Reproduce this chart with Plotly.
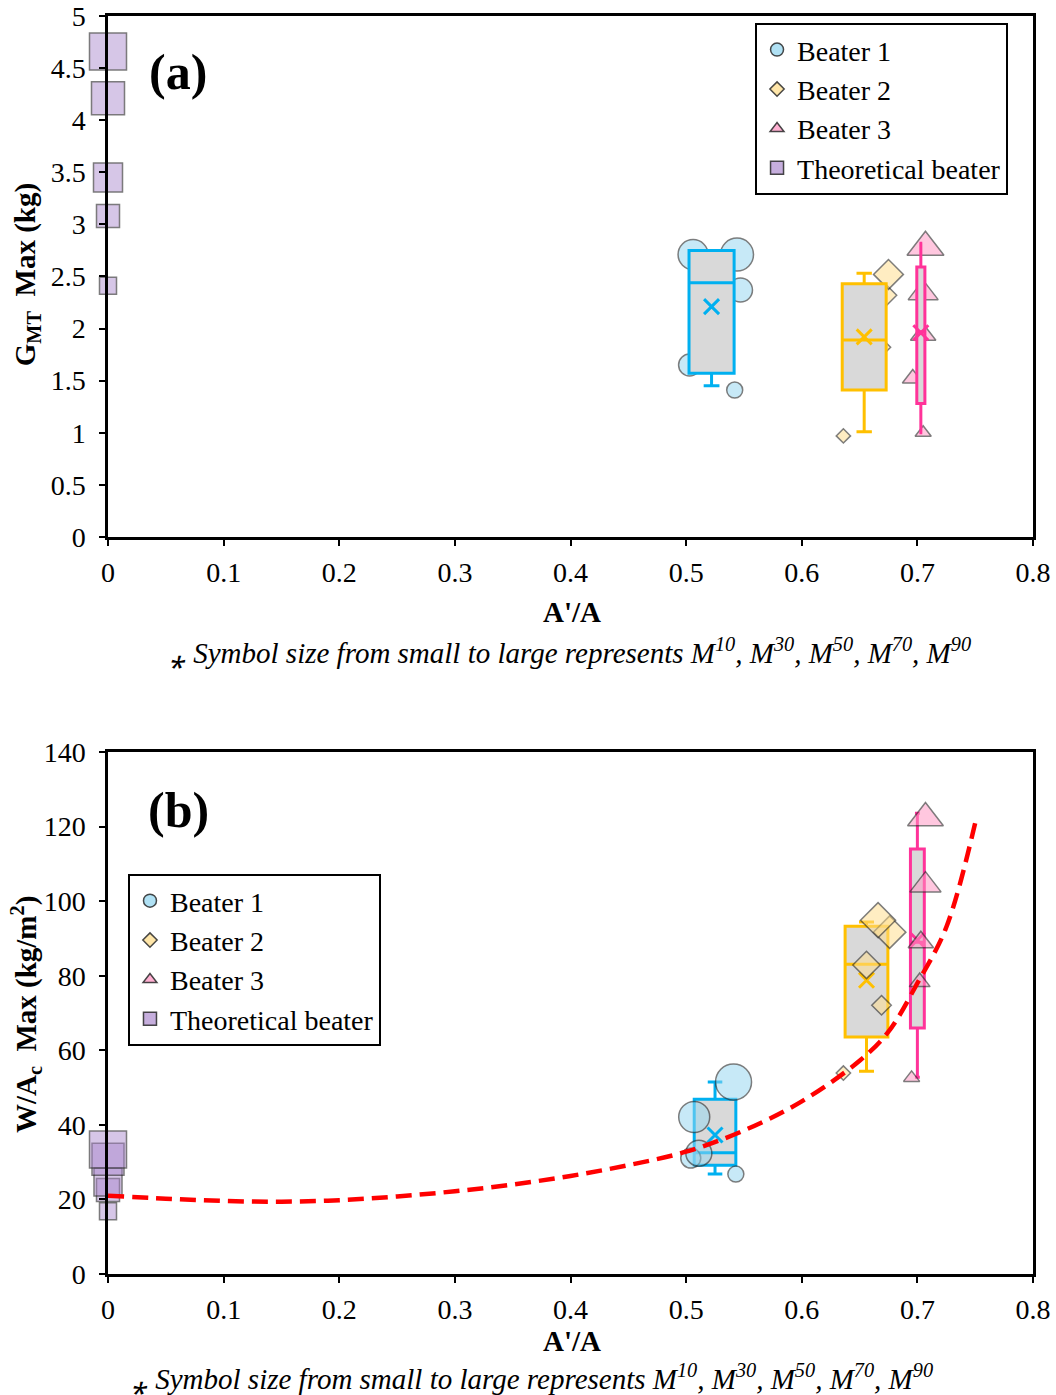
import plotly.graph_objects as go

# ---------------- Panel (a): G_MT Max (kg) ----------------
b1_a_x = [0.542, 0.503, 0.547, 0.506, 0.544]
b1_a_y = [1.41, 1.65, 2.37, 2.71, 2.71]
b1_a_s = [16, 22, 24, 30, 33]

b2_a_x = [0.636, 0.669, 0.655, 0.672, 0.675]
b2_a_y = [0.97, 1.82, 1.89, 2.32, 2.52]
b2_a_s = [11, 14, 16, 18, 23]

b3_a_x = [0.705, 0.696, 0.705, 0.705, 0.707]
b3_a_y = [1.00, 1.52, 1.94, 2.34, 2.78]
b3_a_s = [14, 18, 22, 26, 32]

theo_a_x = [0, 0, 0, 0, 0]
theo_a_y = [2.41, 3.08, 3.45, 4.21, 4.66]
theo_a_s = [17, 23, 29, 33, 37]

# box statistics (a)
box_a_x = [0.522, 0.654, 0.703]
box_a_w = [0.039, 0.038, 0.007]
box_a_q1 = [1.57, 1.41, 1.28]
box_a_med = [2.44, 1.89, 1.97]
box_a_q3 = [2.75, 2.43, 2.59]
box_a_lo = [1.45, 1.01, 1.00]
box_a_hi = [2.75, 2.53, 2.82]
box_a_mean = [2.21, 1.92, 1.96]

# ---------------- Panel (b): W/Ac Max (kg/m2) ----------------
b1_b_x = [0.543, 0.504, 0.511, 0.507, 0.541]
b1_b_y = [26.8, 31.1, 32.4, 42.1, 51.5]
b1_b_s = [16, 20, 26, 31, 36]

b2_b_x = [0.636, 0.669, 0.656, 0.676, 0.666]
b2_b_y = [53.9, 72.1, 82.9, 91.7, 94.9]
b2_b_s = [11, 15, 21, 25, 27]

b3_b_x = [0.695, 0.702, 0.703, 0.707, 0.707]
b3_b_y = [52.6, 78.3, 89.0, 104.3, 122.3]
b3_b_s = [14, 18, 22, 27, 31]

theo_b_x = [0, 0, 0, 0, 0]
theo_b_y = [16.8, 22.5, 24.7, 30.8, 33.4]
theo_b_s = [17, 23, 28, 32, 37]

box_b_x = [0.525, 0.656, 0.700]
box_b_w = [0.036, 0.037, 0.012]
box_b_q1 = [29.2, 63.6, 66.0]
box_b_med = [32.5, 83.1, 89.0]
box_b_q3 = [46.9, 93.3, 114.0]
box_b_lo = [26.8, 54.4, 52.8]
box_b_hi = [51.5, 94.4, 123.6]
box_b_mean = [37.3, 78.8, 89.6]

# fitted curve
fit_x = [0, 0.05, 0.1, 0.15, 0.2, 0.25, 0.3, 0.35, 0.4, 0.45, 0.5, 0.55, 0.6, 0.65, 0.675, 0.7, 0.725, 0.75]
fit_y = [21.0, 20.2, 19.6, 19.4, 19.8, 20.8, 22.2, 24.0, 26.3, 29.2, 32.8, 38.5, 46.3, 57.2, 65.0, 78.0, 93.0, 121.0]

names = ["Beater 1", "Beater 2", "Beater 3", "Theoretical beater"]
box_colors = ["#00B0F0", "#FFC000", "#FF3399"]
fills = ["rgba(150,215,240,0.75)", "rgba(255,222,140,0.75)", "rgba(255,150,195,0.75)", "rgba(168,132,203,0.66)"]
symbols = ["circle", "diamond", "triangle-up", "square"]
legend_sizes = [13, 11, 12, 13]
edge = "rgba(40,40,40,0.85)"

FONT = "Liberation Serif"
fig = go.Figure()

def scatter(x, y, s, k, xa, ya):
    fig.add_trace(go.Scatter(
        x=x, y=y, mode="markers", xaxis=xa, yaxis=ya, showlegend=False, cliponaxis=False,
        hoverinfo="skip",
        marker=dict(symbol=symbols[k], size=s, color=fills[k], line=dict(color=edge, width=1.5))))

def boxes(xs, ws, q1, med, q3, lo, hi, xa, ya):
    for i in range(3):
        fig.add_trace(go.Box(
            x=[xs[i]], q1=[q1[i]], median=[med[i]], q3=[q3[i]], lowerfence=[lo[i]], upperfence=[hi[i]],
            width=ws[i], fillcolor="#D9D9D9", line=dict(color=box_colors[i], width=3),
            whiskerwidth=0.35, boxpoints=False, xaxis=xa, yaxis=ya, showlegend=False, hoverinfo="skip"))

def means(xs, ms, xa, ya):
    for i in range(3):
        fig.add_trace(go.Scatter(
            x=[xs[i]], y=[ms[i]], mode="markers", xaxis=xa, yaxis=ya, showlegend=False, hoverinfo="skip",
            marker=dict(symbol="x-thin", size=15, color=box_colors[i], line=dict(color=box_colors[i], width=3))))

# ---- panel (a): markers below boxes ----
scatter(theo_a_x, theo_a_y, theo_a_s, 3, "x", "y")
scatter(b1_a_x, b1_a_y, b1_a_s, 0, "x", "y")
scatter(b2_a_x, b2_a_y, b2_a_s, 1, "x", "y")
scatter(b3_a_x, b3_a_y, b3_a_s, 2, "x", "y")
boxes(box_a_x, box_a_w, box_a_q1, box_a_med, box_a_q3, box_a_lo, box_a_hi, "x3", "y3")
means(box_a_x, box_a_mean, "x3", "y3")

# ---- panel (b): boxes below markers ----
boxes(box_b_x, box_b_w, box_b_q1, box_b_med, box_b_q3, box_b_lo, box_b_hi, "x2", "y2")
means(box_b_x, box_b_mean, "x2", "y2")
scatter(theo_b_x, theo_b_y, theo_b_s, 3, "x2", "y2")
scatter(b1_b_x, b1_b_y, b1_b_s, 0, "x2", "y2")
scatter(b2_b_x, b2_b_y, b2_b_s, 1, "x2", "y2")
scatter(b3_b_x, b3_b_y, b3_b_s, 2, "x2", "y2")
fig.add_trace(go.Scatter(x=fit_x, y=fit_y, mode="lines", xaxis="x2", yaxis="y2", showlegend=False,
                         hoverinfo="skip", line=dict(color="#FF0000", width=4.5, dash="16px,8px", shape="spline")))

# legend entries
for lg, xa, ya in [("legend", "x", "y"), ("legend2", "x2", "y2")]:
    for k in range(4):
        fig.add_trace(go.Scatter(
            x=[None], y=[None], mode="markers", name=names[k], legend=lg, xaxis=xa, yaxis=ya,
            marker=dict(symbol=symbols[k], size=legend_sizes[k], color=fills[k],
                        line=dict(color=edge, width=1.5))))

tickfont = dict(family=FONT, size=28, color="black")
axis_common = dict(showline=True, linecolor="black", linewidth=2.5, mirror=True, showgrid=False,
                   zeroline=False, ticks="outside", ticklen=6, tickwidth=2, tickcolor="black",
                   tickfont=tickfont, automargin=False)

LEGFONT = dict(family=FONT, size=28, color="black")
fig.update_layout(
    width=1056, height=1395,
    margin=dict(l=108, r=23, t=16, b=121),
    paper_bgcolor="white", plot_bgcolor="white",
    boxmode="overlay",
    font=dict(family=FONT, size=28, color="black"),
    xaxis=dict(domain=[0, 1], anchor="y", range=[0, 0.8], dtick=0.1, tick0=0, ticklabelstandoff=3, **axis_common),
    yaxis=dict(domain=[0.5859, 1], anchor="x", range=[0, 5], dtick=0.5, tick0=0, ticklabelstandoff=8, **axis_common),
    xaxis2=dict(domain=[0, 1], anchor="y2", range=[0, 0.8], dtick=0.1, tick0=0, ticklabelstandoff=3, **axis_common),
    yaxis2=dict(domain=[0, 0.4149], anchor="x2", range=[0, 140], dtick=20, tick0=0, ticklabelstandoff=8, **axis_common),
    xaxis3=dict(overlaying="x", anchor="y3", range=[0, 0.8], visible=False),
    yaxis3=dict(overlaying="y", anchor="x3", range=[0, 5], visible=False),
    legend=dict(x=0.6995, y=0.9945, xanchor="left", yanchor="top", bgcolor="white",
                bordercolor="black", borderwidth=2, font=LEGFONT),
    legend2=dict(x=0.0216, y=0.3180, xanchor="left", yanchor="top", bgcolor="white",
                 bordercolor="black", borderwidth=2, font=LEGFONT),
)

def ann(text, x, y, size=29, angle=0, bold=False, italic=False):
    fig.add_annotation(text=text, x=x, y=y, xref="paper", yref="paper", showarrow=False,
                       textangle=angle, xanchor="center", yanchor="middle",
                       font=dict(family=FONT, size=size, color="black",
                                 weight="bold" if bold else "normal",
                                 style="italic" if italic else "normal"))

ann("(a)", 0.0757, 0.9555, size=50, bold=True)
ann("(b)", 0.0757, 0.3688, size=50, bold=True)
ann("G<sub>MT</sub>\u00a0\u00a0Max (kg)", -0.0875, 0.794, angle=-90, bold=True)
ann("W/A<sub>c</sub>\u00a0\u00a0Max (kg/m<sup>2</sup>)", -0.0885, 0.2059, angle=-90, bold=True)
ann("A'/A", 0.5016, 0.5262, bold=True)
ann("A'/A", 0.5016, -0.0533, bold=True)
cap = "\u204e Symbol size from small to large represents M<sup>10</sup>, M<sup>30</sup>, M<sup>50</sup>, M<sup>70</sup>, M<sup>90</sup>"
ann(cap, 0.4995, 0.4952, italic=True)
ann(cap, 0.4584, -0.0819, italic=True)

fig.write_html("out.html", config={"displayModeBar": False},
               post_script="document.body.style.margin='0px';")
